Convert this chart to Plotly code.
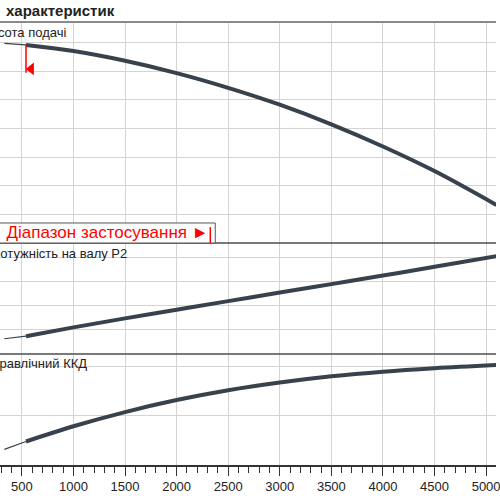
import plotly.graph_objects as go
from plotly.subplots import make_subplots

# Flow rate Q (m3/h) read along the x axis
q = [330, 540, 1000, 1500, 2000, 2500, 3000, 3500, 4000, 4500, 5100]

# Head H (m)
head = [13.95, 13.85, 13.42, 12.74, 11.88, 10.85, 9.67, 8.3, 6.75, 5.03, 2.66]

# Shaft power P2 (kW)
power = [31.5, 36.8, 55.0, 73.5, 91.5, 109.2, 126.8, 144.3, 162.0, 180.0, 202.0]

# Hydraulic efficiency (%)
efficiency = [12.8, 19.2, 31.6, 43.2, 53.0, 61.0, 67.3, 72.4, 76.2, 79.0, 81.6]

# lower limit of the application range
q_min_application = 540
head_marker = 12.17

x_ticks = [500, 1000, 1500, 2000, 2500, 3000, 3500, 4000, 4500, 5000]

curve_color = "#37424d"
grid_color = "#d4d4d4"
font_family = "Liberation Sans, Arial, sans-serif"

fig = make_subplots(
    rows=3, cols=1, shared_xaxes=True, vertical_spacing=0,
    row_heights=[221, 111, 111],
)

# thin part (outside application range) + thick part for each curve
for row, values in [(1, head), (2, power), (3, efficiency)]:
    fig.add_trace(go.Scatter(
        x=q[:2], y=values[:2], mode="lines",
        line=dict(color=curve_color, width=1.2), showlegend=False,
    ), row=row, col=1)
    fig.add_trace(go.Scatter(
        x=q[1:], y=values[1:], mode="lines", line_shape="spline",
        line=dict(color=curve_color, width=4), showlegend=False,
    ), row=row, col=1)

# application range marker on the head curve
fig.add_shape(
    type="line", x0=q_min_application, x1=q_min_application,
    y0=head[1], y1=11.9, line=dict(color="red", width=1.5), row=1, col=1,
)
fig.add_trace(go.Scatter(
    x=[q_min_application + 50], y=[head_marker], mode="markers",
    marker=dict(symbol="triangle-left", size=11, color="red"),
    showlegend=False,
), row=1, col=1)

# x axes
fig.update_xaxes(
    range=[288, 5096], showgrid=True, gridcolor=grid_color, gridwidth=1,
    tickvals=x_ticks, zeroline=False, showline=False, ticks="",
    showticklabels=False,
)
fig.update_xaxes(
    row=3, col=1, showticklabels=True, ticks="outside", ticklen=9,
    tickcolor="#333333", tickwidth=1, showline=True, linecolor="#333333",
    linewidth=1.5, ticklabeloverflow="allow",
    tickfont=dict(family=font_family, size=13, color="#222222"),
    minor=dict(dtick=100, tick0=0, ticks="outside", ticklen=6,
               tickcolor="#333333", showgrid=False),
)

# y axes
fig.update_yaxes(row=1, col=1, range=[0, 15.45], dtick=2)
fig.update_yaxes(row=2, col=1, range=[0, 229.2], dtick=50)
fig.update_yaxes(row=3, col=1, range=[0, 90.6], dtick=40)
fig.update_yaxes(showgrid=True, gridcolor=grid_color, gridwidth=1,
                 showticklabels=False, zeroline=False, ticks="")

# panel borders
for y, color, width in [(1.0, "#8a8a8a", 2), (0.5011, "#4d4d4d", 1.5),
                        (0.2506, "#4d4d4d", 1.5)]:
    fig.add_shape(type="line", xref="paper", yref="paper", x0=0, x1=1,
                  y0=y, y1=y, line=dict(color=color, width=width))

# application range box
fig.add_shape(type="rect", xref="paper", yref="paper",
              x0=-0.02, x1=0.434, y0=0.5011, y1=0.5463,
              line=dict(color="#555555", width=1), fillcolor="white",
              layer="above")
fig.add_shape(type="line", xref="paper", yref="paper",
              x0=0.424, x1=0.424, y0=0.5011, y1=0.537,
              line=dict(color="red", width=1.5), layer="above")
fig.add_annotation(
    xref="paper", yref="paper", x=0.426, y=0.524, xanchor="right",
    yanchor="middle", showarrow=False, text="◄ Діапазон застосування ►",
    font=dict(family=font_family, size=17, color="red"),
)

# panel labels
label_font = dict(family=font_family, size=13, color="#222222")
fig.add_annotation(xref="paper", yref="paper", x=0.138, y=0.976,
                   xanchor="right", yanchor="middle", showarrow=False,
                   text="Висота подачі", font=label_font)
fig.add_annotation(xref="paper", yref="paper", x=0.26, y=0.477,
                   xanchor="right", yanchor="middle", showarrow=False,
                   text="Потужність на валу P2", font=label_font)
fig.add_annotation(xref="paper", yref="paper", x=0.18, y=0.228,
                   xanchor="right", yanchor="middle", showarrow=False,
                   text="Гідравлічний ККД", font=label_font)

# title
fig.add_annotation(xref="paper", yref="paper", x=0.008, y=1.0,
                   yshift=12, xanchor="left", yanchor="middle",
                   showarrow=False, text="<b>характеристик</b>",
                   font=dict(family=font_family, size=15, color="#222222"))

fig.update_layout(
    width=500, height=500,
    margin=dict(l=0, r=0, t=22, b=35),
    plot_bgcolor="white", paper_bgcolor="white",
)

# page has a default body margin, drop it so the figure fills the window
fig.write_html(
    "out.html",
    config={"displayModeBar": False},
    post_script="document.body.style.margin='0px';",
)
